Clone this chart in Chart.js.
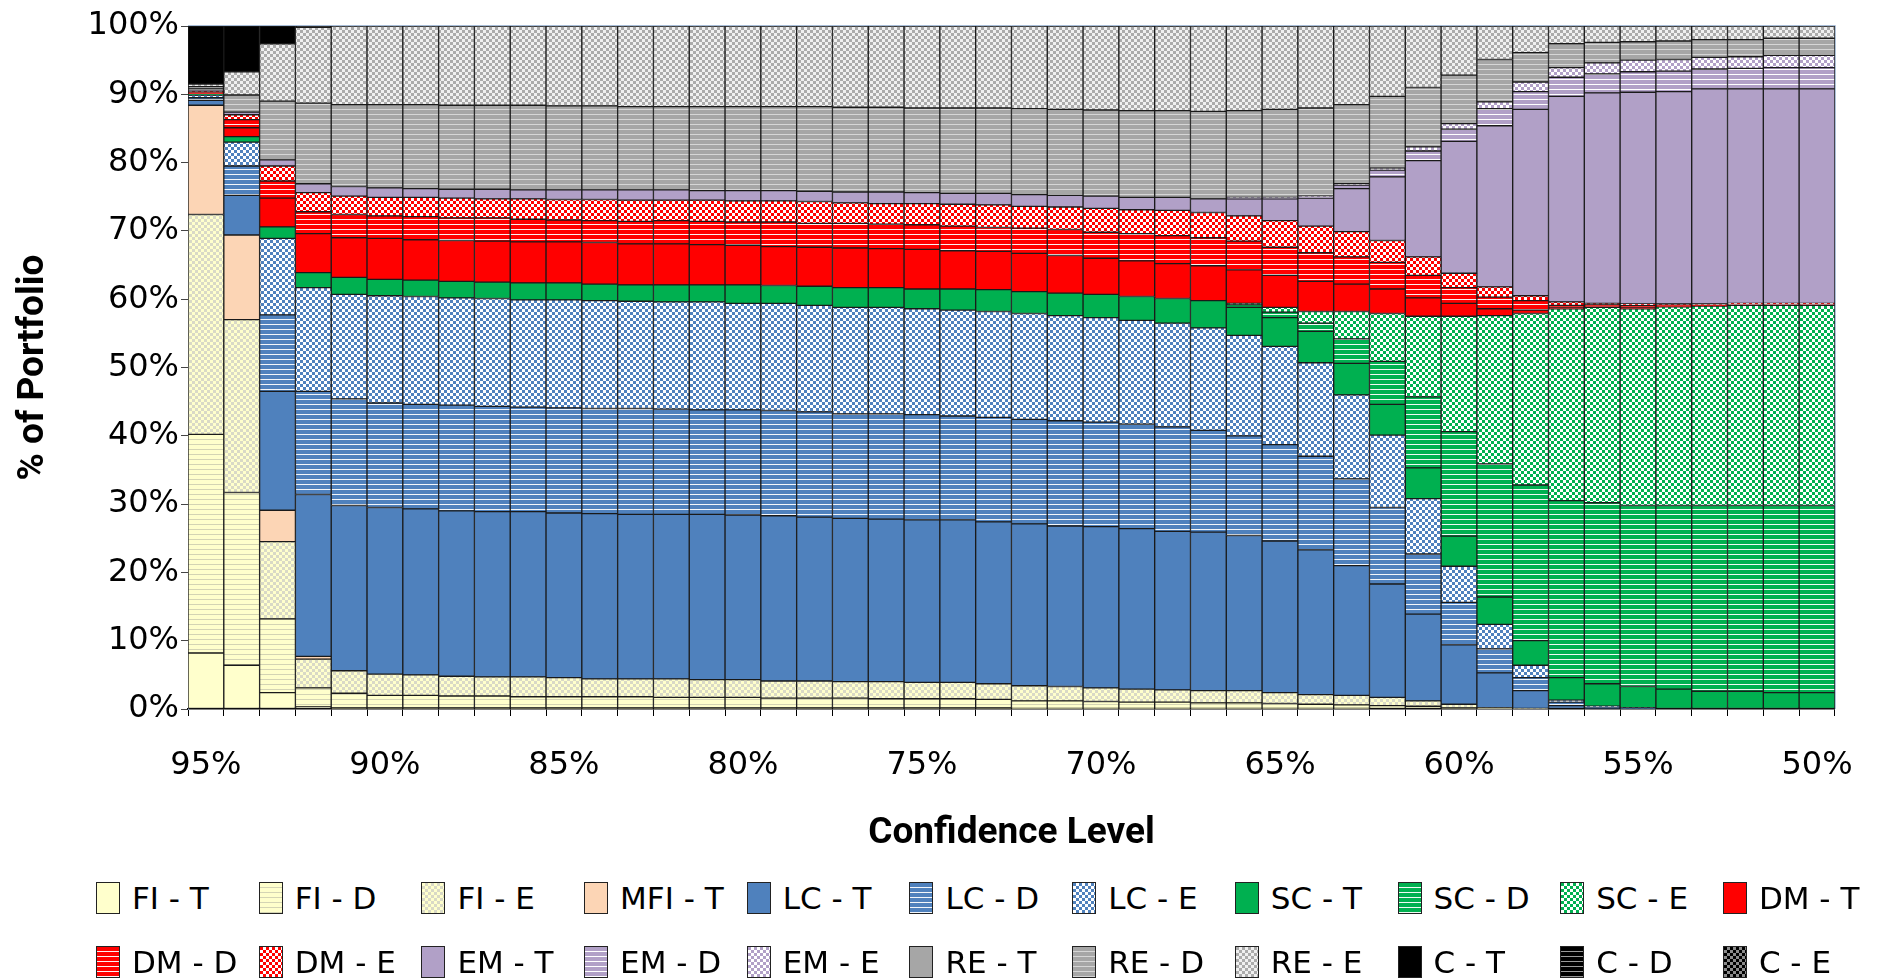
<!DOCTYPE html>
<html>
<head>
<meta charset="utf-8">
<script src="https://cdn.jsdelivr.net/npm/chart.js@4.4.0/dist/chart.umd.min.js"></script>
<style>
  html, body { margin: 0; padding: 0; background: #fff; }
  #wrap { position: relative; width: 1883px; height: 979px; overflow: hidden; }
  #chartBox { position: absolute; left: 0; top: 0; width: 1883px; height: 860px; }
  #legend {
    position: absolute; left: 96px; top: 874px;
    display: grid; grid-template-columns: repeat(11, 162.7px); row-gap: 16px;
    font-family: 'DejaVu Sans', sans-serif;
    font-size: 31px; color: #000;
  }
  .item { display: flex; align-items: center; height: 48px; white-space: nowrap; }
  .item canvas { border: 1px solid #222; margin-right: 12px; }
</style>
</head>
<body>
<div id="wrap">
  <div id="chartBox"><canvas id="chart"></canvas></div>
  <div id="legend"></div>
</div>
<script>
// confidence levels, one bar each
const levels = ['95%','94%','93%','92%','91%','90%','89%','88%','87%','86%','85%','84%','83%','82%','81%','80%',
  '79%','78%','77%','76%','75%','74%','73%','72%','71%','70%','69%','68%','67%','66%','65%','64%','63%','62%',
  '61%','60%','59%','58%','57%','56%','55%','54%','53%','52%','51%','50%'];
const shownLevels = ['95%','90%','85%','80%','75%','70%','65%','60%','55%','50%'];
const yTicks = [0,10,20,30,40,50,60,70,80,90,100];

// % of portfolio per asset class
const fiT = [8.2,6.4,2.4,0.3,0.2,0.2,0.2,0.2,0.2,0.2,0.2,0.2,0.2,0.2,0.2,0.2,0.2,0.2,0.2,0.2,0.2,0.2,0.2,
  0.1,0.1,0.1,0.1,0.1,0.1,0.1,0.1,0.1,0.1,0,0,0,0,0,0,0,0,0,0,0,0,0];
const fiD = [32.0,25.3,10.8,2.8,2.1,1.8,1.8,1.7,1.7,1.6,1.6,1.6,1.6,1.5,1.5,1.5,1.4,1.4,1.4,1.3,1.3,1.3,1.2,
  1.1,1.1,1.0,0.9,0.9,0.8,0.8,0.7,0.6,0.5,0.5,0.4,0.2,0.1,0,0,0,0,0,0,0,0,0];
const fiE = [32.2,25.3,11.3,4.2,3.3,3.1,3.0,2.9,2.8,2.9,2.8,2.6,2.6,2.7,2.6,2.6,2.5,2.5,2.4,2.5,2.4,2.4,2.3,
  2.2,2.1,2.0,1.9,1.8,1.8,1.8,1.6,1.4,1.4,1.2,0.8,0.5,0.1,0.1,0,0,0,0,0,0,0,0];
const mfiT = [16.0,12.4,4.6,0.4,0,0,0,0,0,0,0,0,0,0,0,0,0,0,0,0,0,0,0,0,0,0,0,0,0,0,0,0,0,0,0,0,0,0,0,0,0,0,0,0,0,0];
const lcT = [0.7,5.8,17.4,23.7,24.2,24.4,24.3,24.2,24.2,24.2,24.1,24.2,24.1,24.1,24.2,24.1,24.2,24.0,23.9,23.8,23.8,23.8,23.7,
  23.7,23.5,23.6,23.5,23.2,23.2,22.7,22.2,21.2,19.0,16.6,12.7,8.7,5.1,2.6,0.5,0.2,0.1,0,0,0,0,0];
const lcD = [0.4,4.3,11.2,15.1,15.6,15.3,15.3,15.5,15.4,15.3,15.4,15.4,15.5,15.4,15.3,15.4,15.4,15.4,15.3,15.4,15.4,15.2,15.3,
  15.3,15.4,15.3,15.3,15.3,14.9,14.6,14.1,13.7,12.7,11.2,8.8,6.2,3.5,1.9,0.5,0.1,0,0,0,0,0,0];
const lcE = [0.4,3.5,11.2,15.2,15.3,15.7,15.8,15.7,15.8,15.7,15.8,15.8,15.7,15.7,15.8,15.6,15.7,15.6,15.6,15.6,15.5,15.5,15.5,
  15.5,15.4,15.3,15.2,15.2,15.0,14.7,14.4,13.7,12.3,10.6,8.1,5.3,3.6,1.8,0.3,0.1,0.1,0,0,0,0,0];
const scT = [0.1,0.8,1.7,2.2,2.5,2.4,2.4,2.4,2.4,2.5,2.5,2.4,2.4,2.5,2.5,2.7,2.6,2.8,2.9,2.9,2.9,3.1,3.2,
  3.2,3.3,3.4,3.5,3.6,4.0,4.1,4.2,4.6,4.6,4.5,4.5,4.4,4.0,3.6,3.3,3.3,3.1,2.9,2.6,2.6,2.4,2.4];
const scD = [0,0,0,0,0,0,0,0,0,0,0,0,0,0,0,0,0,0,0,0,0,0,0,0,0,0,0,0,0,
  0.4,0.8,1.2,3.6,6.3,10.4,15.3,19.5,22.8,25.9,26.5,26.5,26.9,27.2,27.2,27.4,27.4];
const scE = [0,0,0,0,0,0,0,0,0,0,0,0,0,0,0,0,0,0,0,0,0,0,0,0,0,0,0,0,0,
  0.2,0.7,1.7,4.0,7.0,11.8,16.9,21.7,25.1,28.1,28.6,28.8,29.1,29.2,29.3,29.3,29.3];
const dmT = [0.2,1.3,4.2,5.7,5.8,6.0,5.9,6.0,6.0,6.0,6.0,6.1,6.0,6.0,5.9,5.8,5.7,5.7,5.8,5.7,5.8,5.6,5.6,
  5.6,5.5,5.3,5.2,5.1,5.1,4.9,4.7,4.4,4.0,3.6,2.7,1.9,1.0,0.5,0.2,0.2,0.2,0.1,0.1,0.1,0.1,0.1];
const dmD = [0.2,1.2,2.5,3.2,3.4,3.3,3.4,3.3,3.4,3.3,3.2,3.2,3.3,3.4,3.4,3.4,3.6,3.5,3.6,3.6,3.6,3.6,3.5,
  3.7,3.8,3.8,4.0,4.1,4.1,4.2,4.1,4.2,4.0,3.9,3.3,2.3,1.7,1.4,0.3,0.2,0.3,0.2,0.1,0.1,0.1,0.1];
const dmE = [0.1,0.7,2.2,2.8,2.7,2.7,2.8,2.9,2.8,3.0,3.0,3.1,3.1,3.0,3.1,3.1,3.1,3.2,3.0,3.0,3.1,3.2,3.3,
  3.2,3.3,3.5,3.5,3.7,3.7,3.7,3.9,3.9,3.7,3.2,2.7,2.1,1.5,0.7,0.5,0.2,0.2,0.1,0.1,0.1,0.1,0.1];
const emT = [0.1,0.4,0.9,1.3,1.4,1.4,1.3,1.3,1.4,1.3,1.4,1.4,1.5,1.5,1.4,1.5,1.5,1.5,1.6,1.7,1.6,1.6,1.7,
  1.7,1.7,1.8,1.8,1.9,2.0,2.5,3.2,4.1,6.3,9.3,14.1,19.3,23.6,27.3,30.1,30.8,31.0,31.1,31.5,31.4,31.4,31.4];
const emD = [0,0,0,0,0,0,0,0,0,0,0,0,0,0,0,0,0,0,0,0,0,0,0,0,0,0,0,0,0,
  0.1,0.1,0.2,0.5,1.0,1.4,1.8,2.5,2.6,2.8,2.8,3.0,3.0,2.9,3.0,3.1,3.1];
const emE = [0,0,0,0,0,0,0,0,0,0,0,0,0,0,0,0,0,0,0,0,0,0,0,0,0,0,0,0,0,
  0.1,0.1,0.1,0.2,0.3,0.6,0.8,1.0,1.4,1.4,1.6,1.7,1.7,1.7,1.7,1.8,1.8];
const reT = [0.2,0,0,0,0,0,0,0,0,0,0,0,0,0,0,0,0,0,0,0,0,0,0,0,0,0,0,0,0,0,0,0,0,0,0,0,0,0,0,0,0,0,0,0,0,0];
const reD = [0.3,2.5,8.6,11.8,12.0,12.2,12.3,12.3,12.3,12.4,12.3,12.3,12.2,12.2,12.3,12.3,12.3,12.4,12.4,12.4,12.4,12.5,12.5,
  12.6,12.6,12.6,12.7,12.7,12.8,12.7,12.9,12.9,11.6,10.5,8.7,7.1,6.2,4.3,3.5,3.0,2.7,2.7,2.6,2.5,2.5,2.5];
const reE = [0.4,3.4,8.4,11.1,11.5,11.5,11.5,11.6,11.6,11.6,11.7,11.7,11.8,11.8,11.8,11.8,11.8,11.8,11.9,11.9,12.0,12.0,12.0,
  12.1,12.2,12.3,12.4,12.4,12.5,12.4,12.2,12.0,11.5,10.3,9.0,7.2,4.9,3.9,2.6,2.4,2.3,2.2,2.0,2.0,1.8,1.8];
const cT = [8.5,6.7,2.6,0.2,0,0,0,0,0,0,0,0,0,0,0,0,0,0,0,0,0,0,0,0,0,0,0,0,0,0,0,0,0,0,0,0,0,0,0,0,0,0,0,0,0,0];
const cD = [0,0,0,0,0,0,0,0,0,0,0,0,0,0,0,0,0,0,0,0,0,0,0,0,0,0,0,0,0,0,0,0,0,0,0,0,0,0,0,0,0,0,0,0,0,0];
const cE = [0,0,0,0,0,0,0,0,0,0,0,0,0,0,0,0,0,0,0,0,0,0,0,0,0,0,0,0,0,0,0,0,0,0,0,0,0,0,0,0,0,0,0,0,0,0];

// T = solid, D = striped, E = checkered
const series = [
  ['FI - T', fiT, 'T', '#FFFFCC', null],
  ['FI - D', fiD, 'D', '#FFFFCC', '#D4D4B4'],
  ['FI - E', fiE, 'E', '#FFFFCC', '#D9D9C6'],
  ['MFI - T', mfiT, 'T', '#FCD5B5', null],
  ['LC - T', lcT, 'T', '#4F81BD', null],
  ['LC - D', lcD, 'D', '#4F81BD', '#F2F6FB'],
  ['LC - E', lcE, 'E', '#4F81BD', '#FFFFFF'],
  ['SC - T', scT, 'T', '#00B050', null],
  ['SC - D', scD, 'D', '#00B050', '#F0FAF4'],
  ['SC - E', scE, 'E', '#00B050', '#FFFFFF'],
  ['DM - T', dmT, 'T', '#FF0000', null],
  ['DM - D', dmD, 'D', '#FF0000', '#FFF0F0'],
  ['DM - E', dmE, 'E', '#FF0000', '#FFFFFF'],
  ['EM - T', emT, 'T', '#B1A0C7', null],
  ['EM - D', emD, 'D', '#B1A0C7', '#FFFFFF'],
  ['EM - E', emE, 'E', '#B1A0C7', '#FFFFFF'],
  ['RE - T', reT, 'T', '#A6A6A6', null],
  ['RE - D', reD, 'D', '#A6A6A6', '#D6D6D6'],
  ['RE - E', reE, 'E', '#ABABAB', '#F0F0F0'],
  ['C - T', cT, 'T', '#000000', null],
  ['C - D', cD, 'D', '#000000', '#9A9A9A'],
  ['C - E', cE, 'E', '#000000', '#8C8C8C']
];

function makeFill(kind, color, alt) {
  if (kind === 'T') return color;
  const tile = document.createElement('canvas');
  const g = tile.getContext('2d');
  if (kind === 'D') {
    tile.width = 6; tile.height = 5;
    g.fillStyle = color; g.fillRect(0, 0, 6, 5);
    g.fillStyle = alt; g.fillRect(0, 4, 6, 1);
  } else {
    tile.width = 6; tile.height = 6;
    g.fillStyle = alt; g.fillRect(0, 0, 6, 6);
    g.fillStyle = color; g.fillRect(0, 0, 3, 3); g.fillRect(3, 3, 3, 3);
  }
  return g.createPattern(tile, 'repeat');
}

// 100% stacked: scale every bar to its own total
const totals = levels.map((_, i) => series.reduce((s, r) => s + r[1][i], 0));

const datasets = series.map(([name, vals, kind, color, alt]) => ({
  label: name,
  data: vals.map((v, i) => v / totals[i] * 100),
  backgroundColor: makeFill(kind, color, alt),
  borderColor: '#1a1a1a',
  borderWidth: 1,
  borderSkipped: false,
  categoryPercentage: 1.0,
  barPercentage: 1.0
}));

const tickFont = { family: "'DejaVu Sans', sans-serif", size: 32 };
const titleFont = { family: "Roboto, 'Liberation Sans', sans-serif", size: 37, weight: 'bold' };

const plotFrame = {
  id: 'plotFrame',
  afterDatasetsDraw(chart) {
    const a = chart.chartArea, ctx = chart.ctx;
    ctx.save();
    ctx.strokeStyle = '#A7BCD6';
    ctx.lineWidth = 1;
    ctx.beginPath();
    ctx.moveTo(a.left, a.top - 0.5);
    ctx.lineTo(a.right + 0.5, a.top - 0.5);
    ctx.lineTo(a.right + 0.5, a.bottom);
    ctx.stroke();
    ctx.restore();
  }
};

new Chart(document.getElementById('chart'), {
  type: 'bar',
  data: { labels: levels, datasets: datasets },
  options: {
    responsive: true,
    maintainAspectRatio: false,
    animation: false,
    layout: { padding: { left: 0, right: 39, top: 26, bottom: 0 } },
    plugins: { legend: { display: false }, tooltip: { enabled: false } },
    scales: {
      x: {
        stacked: true,
        afterFit: s => { s.height = 860 - 709; },
        grid: { drawOnChartArea: false, tickLength: 7, color: '#000', offset: true },
        border: { color: '#000', width: 1.5 },
        ticks: {
          autoSkip: false, maxRotation: 0, padding: 30, color: '#000', font: tickFont,
          callback: (v, i) => shownLevels.includes(levels[i]) ? levels[i] : ''
        },
        title: { display: true, text: 'Confidence Level', color: '#000', font: titleFont, padding: { top: 18 } }
      },
      y: {
        stacked: true,
        min: 0, max: 100,
        afterFit: s => { s.width = 188; },
        afterBuildTicks: s => { s.ticks = yTicks.map(v => ({ value: v })); },
        grid: { drawOnChartArea: false, tickLength: 7, color: '#444' },
        border: { color: '#8EA4BF', width: 1 },
        ticks: { padding: 2, color: '#000', font: tickFont, callback: v => v + '%' },
        title: { display: true, text: '% of Portfolio', color: '#000', font: titleFont, padding: { top: 12 } }
      }
    }
  },
  plugins: [plotFrame]
});

// legend in fixed columns, same fills as the bars
const legendEl = document.getElementById('legend');
series.forEach(([name, vals, kind, color, alt]) => {
  const item = document.createElement('div');
  item.className = 'item';
  const sw = document.createElement('canvas');
  sw.width = 22; sw.height = 30;
  const g = sw.getContext('2d');
  g.fillStyle = makeFill(kind, color, alt);
  g.fillRect(0, 0, 22, 30);
  const txt = document.createElement('span');
  txt.textContent = name;
  item.appendChild(sw);
  item.appendChild(txt);
  legendEl.appendChild(item);
});
</script>
</body>
</html>
